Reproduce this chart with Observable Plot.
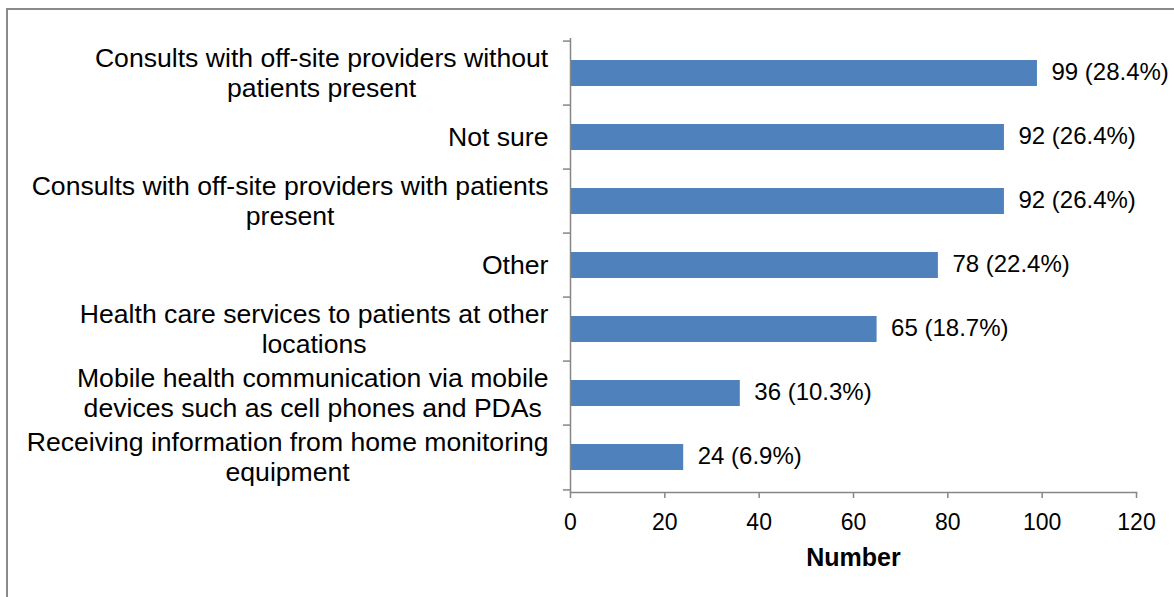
<!DOCTYPE html>
<html>
<head>
<meta charset="utf-8">
<script src="https://cdn.jsdelivr.net/npm/d3@7"></script>
<script src="https://cdn.jsdelivr.net/npm/@observablehq/plot@0.6"></script>
<style>
  html, body { margin: 0; padding: 0; background: #fff; }
  #wrap { position: relative; width: 1174px; height: 597px; overflow: hidden; font-family: "Liberation Sans", Arial, sans-serif; }
  #border { position: absolute; left: 6px; top: 8px; right: -4px; bottom: -4px; border-top: 2px solid #8a8a8a; border-left: 2px solid #8a8a8a; }
  #chart { position: absolute; left: 0; top: 0; }
  #chart g[aria-label="x-axis label"] text { font-weight: bold; font-size: 25px; }
</style>
</head>
<body>
<div id="wrap">
  <div id="border"></div>
  <div id="chart"></div>
</div>
<script>
const categories = [
  "Consults with off-site providers without\npatients present",
  "Not sure",
  "Consults with off-site providers with patients\npresent",
  "Other",
  "Health care services to patients at other\nlocations",
  "Mobile health communication via mobile\ndevices such as cell phones and PDAs",
  "Receiving information from home monitoring\nequipment"
];
const counts = [99, 92, 92, 78, 65, 36, 24];
const percents = [28.4, 26.4, 26.4, 22.4, 18.7, 10.3, 6.9];
const xTicks = [0, 20, 40, 60, 80, 100, 120];
const xLabel = "Number";

const data = categories.map((c, i) => ({category: c, count: counts[i], pct: percents[i]}));

const marginTop = 38, marginBottom = 105, height = 597;
const step = (height - marginTop - marginBottom) / categories.length;
const gray = "#868686";

const chart = Plot.plot({
  width: 1174,
  height,
  marginLeft: 570,
  marginRight: 38,
  marginTop,
  marginBottom,
  style: {fontFamily: '"Liberation Sans", Arial, sans-serif', background: "transparent", overflow: "visible"},
  x: {domain: [0, 120]},
  y: {domain: categories, paddingInner: 0.6, paddingOuter: 0.3, axis: null},
  marks: [
    Plot.barX(data, {x: "count", y: "category", fill: "#4F81BD"}),
    Plot.ruleX([0], {stroke: gray, strokeWidth: 1.5}),
    Plot.frame({anchor: "bottom", stroke: gray, strokeWidth: 1.5}),
    Plot.ruleY(categories, {y: d => d, x1: -1.5, x2: 0, dy: -step / 2, stroke: gray, strokeWidth: 1.5}),
    Plot.ruleY(categories.slice(-1), {y: d => d, x1: -1.5, x2: 0, dy: step / 2, stroke: gray, strokeWidth: 1.5}),
    Plot.text(data, {x: 0, y: "category", text: "category", textAnchor: "middle", dx: -22, dy: -1.5, fontSize: 26.6, lineHeight: 1.13, fill: "#000"}),
    Plot.text(data, {x: "count", y: "category", text: d => `${d.count} (${d.pct}%)`, textAnchor: "start", dx: 14, dy: -1, fontSize: 24, fill: "#000"}),
    Plot.axisX({ticks: xTicks, tickSize: 6, tickPadding: 15, stroke: gray, strokeWidth: 1.5, fill: "#000", fontSize: 23, label: xLabel, labelAnchor: "center", labelArrow: "none", labelOffset: 73})
  ]
});
document.getElementById("chart").appendChild(chart);

// Right-align each category label block while centring its lines (as in the reference)
const catGroup = chart.querySelectorAll('g[aria-label="text"]')[0];
catGroup.querySelectorAll("text").forEach(t => {
  const w = t.getBBox().width;
  const tr = t.getAttribute("transform") || "";
  t.setAttribute("transform", `${tr} translate(${-w / 2},0)`);
});
</script>
</body>
</html>
